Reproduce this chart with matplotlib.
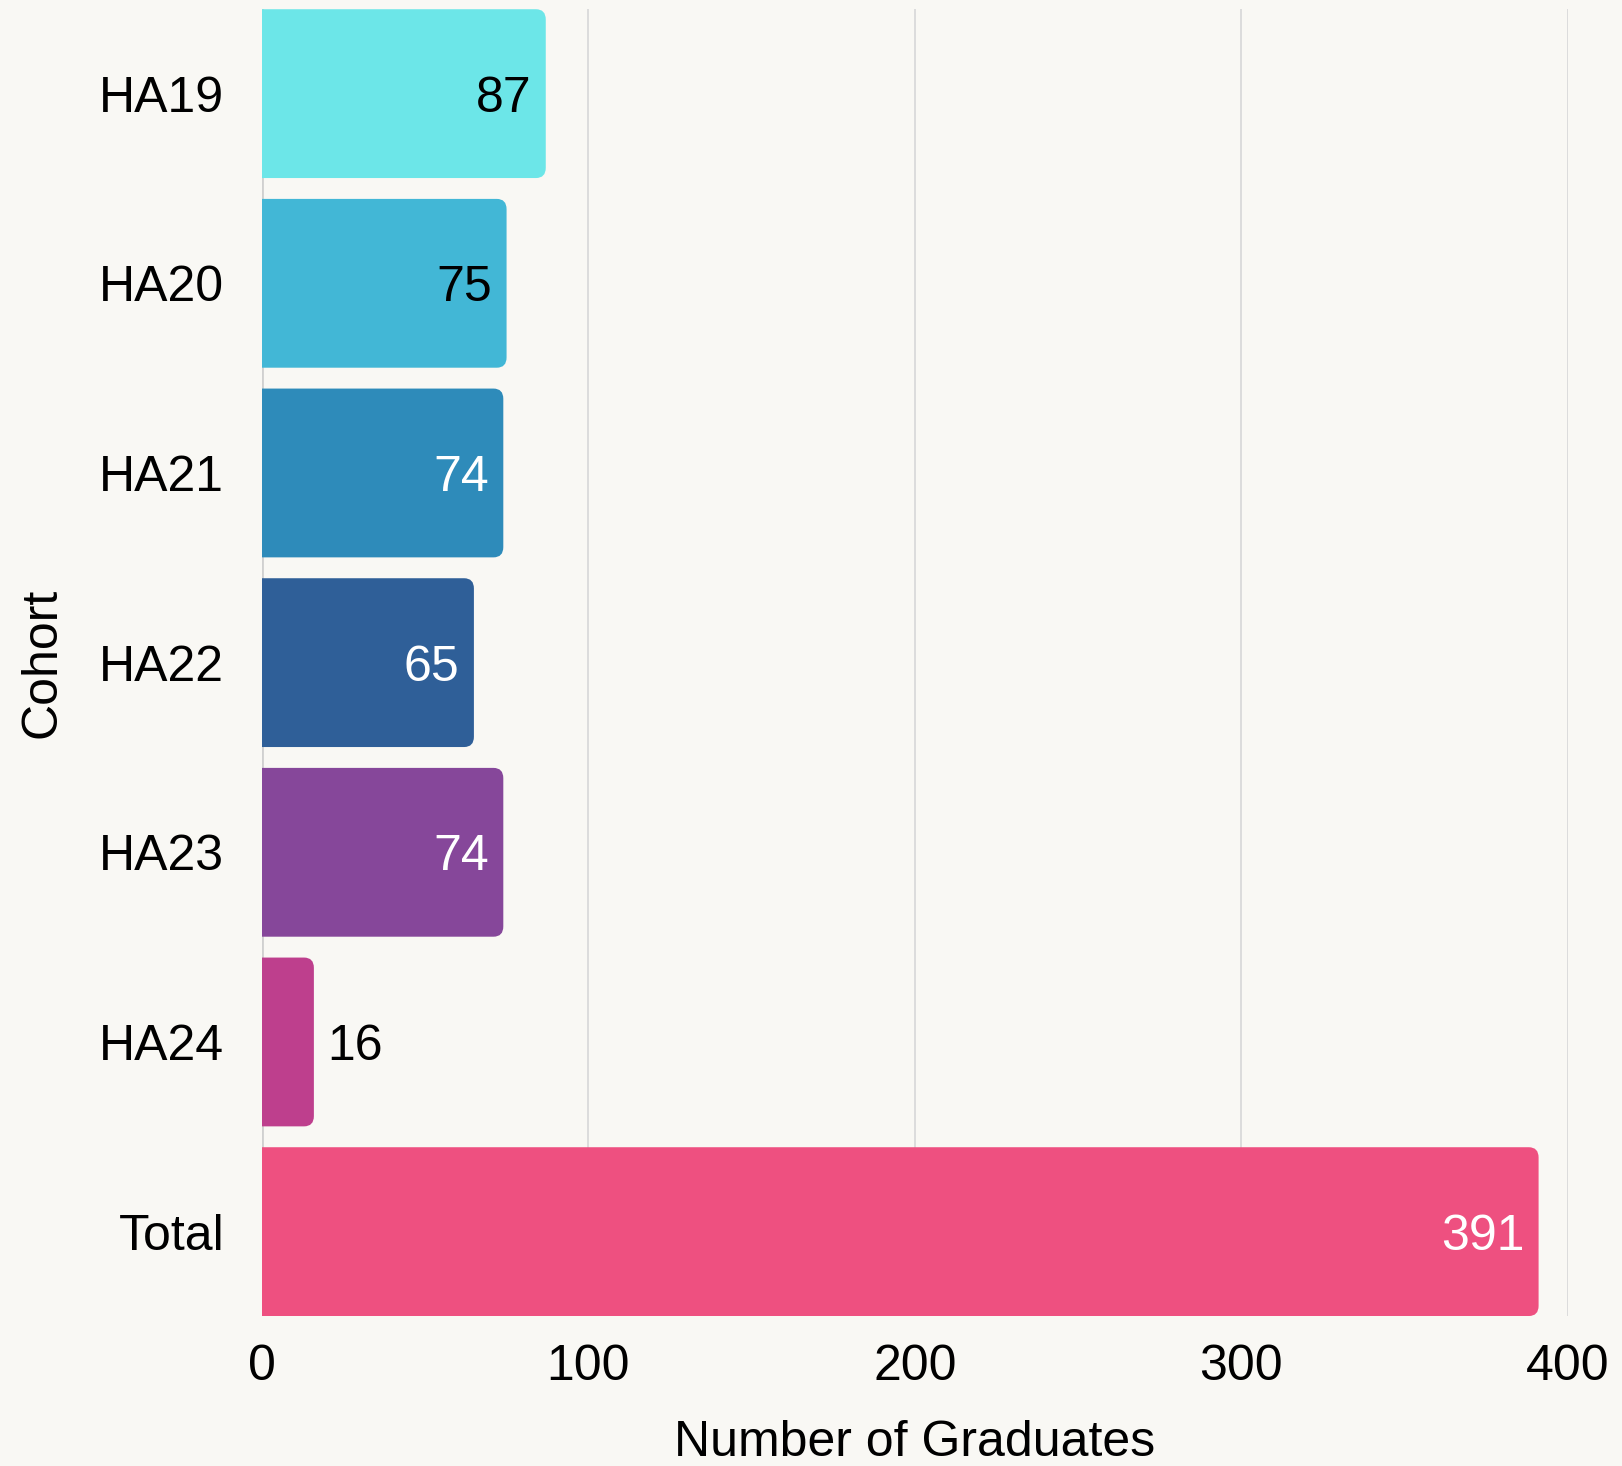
import matplotlib
matplotlib.use("Agg")
import matplotlib.pyplot as plt
from matplotlib.patches import FancyBboxPatch

cohorts = ["HA19", "HA20", "HA21", "HA22", "HA23", "HA24", "Total"]
graduates = [87, 75, 74, 65, 74, 16, 391]
bar_colors = ["#6ce6e8", "#42b7d6", "#2e8bba", "#2f5f98", "#86479a", "#be3f8d", "#ee5080"]
label_colors = ["black", "black", "white", "white", "white", "black", "white"]
x_ticks = [0, 100, 200, 300, 400]

plt.rcParams['font.family'] = ['Liberation Sans', 'DejaVu Sans']
bg = "#f9f8f4"

fig = plt.figure(figsize=(16.22, 14.66), dpi=100, facecolor=bg)
ax = fig.add_axes([0.1613, 0.1023, 0.9667 - 0.1613, 0.9937 - 0.1023])
ax.set_facecolor(bg)

h = 0.89
bars = ax.barh(range(len(cohorts)), graduates, height=h, color=bar_colors, zorder=2)

# swap plain bars for ones with rounded right corners
for b, c in zip(bars, bar_colors):
    x0, y0, w, hh = b.get_x(), b.get_y(), b.get_width(), b.get_height()
    b.set_visible(False)
    fb = FancyBboxPatch((x0 - 10, y0), w + 10, hh,
                        boxstyle="round,pad=0,rounding_size=3",
                        mutation_aspect=0.018, facecolor=c, edgecolor="none",
                        zorder=2, clip_on=True)
    ax.add_patch(fb)

for i, (v, lc) in enumerate(zip(graduates, label_colors)):
    if v < 30:
        ax.text(v + 4, i, str(v), ha="left", va="center_baseline", fontsize=36, color=lc, zorder=3)
    else:
        ax.text(v - 4.4, i, str(v), ha="right", va="center_baseline", fontsize=36, color=lc, zorder=3)

ax.set_xlim(0, 400)
ax.set_ylim(len(cohorts) - 1 + h / 2, -h / 2)
ax.set_xticks(x_ticks)
ax.set_yticks(range(len(cohorts)))
ax.set_yticklabels(cohorts)
ax.tick_params(axis="both", length=0, labelsize=36)
ax.tick_params(axis="y", pad=27)
ax.tick_params(axis="x", pad=20)
ax.grid(axis="x", color="#dcdcdc", linewidth=1.4, zorder=0)
ax.axvline(0, color="#d0d0d0", linewidth=2, zorder=1)
ax.set_axisbelow(True)
for s in ax.spines.values():
    s.set_visible(False)

ax.set_xlabel("Number of Graduates", fontsize=36, labelpad=22)
ax.set_ylabel("Cohort", fontsize=36, labelpad=24)

fig.savefig("out.png", dpi=100, facecolor=bg)
